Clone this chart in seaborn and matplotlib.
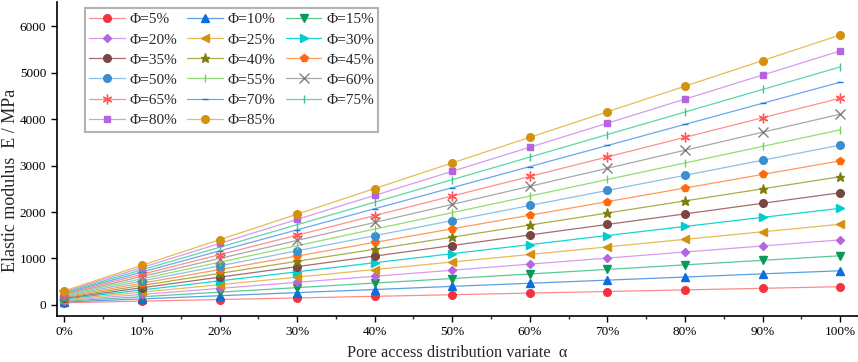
import numpy as np
import pandas as pd
import matplotlib
matplotlib.use('Agg')
import matplotlib.pyplot as plt
from matplotlib.ticker import MultipleLocator, FuncFormatter
import seaborn as sns

# dados
alpha = [0, 10, 20, 30, 40, 50, 60, 70, 80, 90, 100]
phis = [5, 10, 15, 20, 25, 30, 35, 40, 45, 50, 55, 60, 65, 70, 75, 80, 85]

E_05 = [46, 81, 115, 150, 184, 219, 254, 288, 323, 357, 392]
E_10 = [62, 129, 197, 264, 331, 399, 466, 533, 600, 668, 735]
E_15 = [78, 176, 274, 372, 470, 568, 666, 764, 862, 960, 1058]
E_20 = [94, 225, 355, 486, 616, 747, 878, 1008, 1139, 1269, 1400]
E_25 = [110, 273, 435, 598, 761, 924, 1086, 1249, 1412, 1574, 1737]
E_30 = [126, 321, 517, 712, 908, 1103, 1298, 1494, 1689, 1885, 2080]
E_35 = [142, 369, 597, 824, 1051, 1279, 1506, 1733, 1960, 2188, 2415]
E_40 = [158, 418, 678, 939, 1199, 1459, 1719, 1979, 2240, 2500, 2760]
E_45 = [174, 467, 760, 1053, 1346, 1639, 1931, 2224, 2517, 2810, 3103]
E_50 = [190, 515, 840, 1165, 1490, 1816, 2141, 2466, 2791, 3116, 3441]
E_55 = [206, 562, 919, 1275, 1632, 1988, 2344, 2701, 3057, 3414, 3770]
E_60 = [222, 611, 999, 1388, 1776, 2165, 2554, 2942, 3331, 3719, 4108]
E_65 = [238, 659, 1081, 1502, 1924, 2345, 2766, 3188, 3609, 4031, 4452]
E_70 = [254, 708, 1162, 1617, 2071, 2525, 2979, 3433, 3888, 4342, 4796]
E_75 = [270, 756, 1241, 1727, 2212, 2698, 3183, 3669, 4154, 4640, 5125]
E_80 = [286, 804, 1323, 1841, 2359, 2878, 3396, 3914, 4432, 4951, 5469]
E_85 = [302, 853, 1404, 1955, 2506, 3058, 3609, 4160, 4711, 5262, 5813]

series = [E_05, E_10, E_15, E_20, E_25, E_30, E_35, E_40, E_45, E_50,
          E_55, E_60, E_65, E_70, E_75, E_80, E_85]

labels = ['Φ=%d%%' % p for p in phis]

# cores das linhas (mais claras) e dos marcadores
cores_linha = ['#ff8a8a', '#5a9ee6', '#5cc996', '#d89af0', '#e8bb55', '#19d4d4',
               '#a56c6c', '#abab4a', '#ff9a5c', '#8dc0e8', '#93dc74', '#a8a8a8',
               '#ff8e8e', '#6aa8ee', '#5ed6a6', '#d89af0', '#e8bb55']
cores_marc = ['#f5333f', '#0a6fdc', '#0a9a58', '#b366e0', '#d4920c', '#00cccc',
              '#7a4545', '#7f7f10', '#ff6a10', '#3a8fd0', '#7acc55', '#808080',
              '#ff5a5a', '#1e78e0', '#40c090', '#b366e0', '#d4920c']
marcadores = ['o', '^', 'v', 'D', '<', '>', 'o', '*', 'p', 'o', '|', 'x',
              (6, 2, 0), '_', '|', 's', 'o']
tamanhos = [5.5, 6, 6, 4.5, 6, 6, 5.5, 6.5, 6, 5.5, 6, 6.5, 7, 5, 6, 5, 5.5]

rows = []
for lab, vals in zip(labels, series):
    for a, e in zip(alpha, vals):
        rows.append({'alpha': a, 'E': e, 'Phi': lab})
dados = pd.DataFrame(rows)

sns.set_style('ticks')
plt.rcParams['font.family'] = ['Liberation Serif', 'DejaVu Serif']
plt.rcParams['mathtext.fontset'] = 'stix'

fig = plt.figure(figsize=(8.58, 3.62), dpi=100)
ax = fig.add_axes([0.066, 0.127, 0.934, 0.867])

sns.lineplot(data=dados, x='alpha', y='E', hue='Phi', hue_order=labels,
             palette=dict(zip(labels, cores_linha)),
             linewidth=0.9, ax=ax, legend=False)

linhas = ax.get_lines()[:len(labels)]
for ln, mk, mc, ms in zip(linhas, marcadores, cores_marc, tamanhos):
    ln.set_marker(mk)
    ln.set_markerfacecolor(mc)
    ln.set_markeredgecolor(mc)
    ln.set_markersize(ms)
    ln.set_markeredgewidth(1.0)

ax.set_xlim(-1, 102.3)
ax.set_ylim(-240, 6520)
ax.xaxis.set_major_locator(MultipleLocator(10))
ax.xaxis.set_minor_locator(MultipleLocator(5))
ax.yaxis.set_major_locator(MultipleLocator(1000))
ax.xaxis.set_major_formatter(FuncFormatter(lambda v, p: '%d%%' % v))
ax.tick_params(axis='both', which='major', direction='out', length=4, width=1,
               labelsize=9.5, colors='black')
ax.tick_params(axis='x', which='minor', direction='out', length=2.5, width=1)
for s in ['left', 'bottom']:
    ax.spines[s].set_linewidth(1.2)
    ax.spines[s].set_color('black')
sns.despine(ax=ax)

ax.set_xlabel('Pore access distribution variate  α', fontsize=11.7, labelpad=5)
ax.set_ylabel('Elastic modulus  E / MPa', fontsize=13)
ax.yaxis.set_label_coords(-0.047, 0.433)

# legenda em 3 colunas, ordem por linha
ordem = [0, 3, 6, 9, 12, 15, 1, 4, 7, 10, 13, 16, 2, 5, 8, 11, 14]
leg = ax.legend([linhas[i] for i in ordem], [labels[i] for i in ordem],
                ncol=3, loc='upper left', bbox_to_anchor=(0.035, 0.981),
                borderaxespad=0, fontsize=11, handlelength=2.35,
                handletextpad=0.3, columnspacing=0.65, labelspacing=0.42,
                borderpad=0.3, frameon=True, fancybox=False)
leg.get_frame().set_edgecolor('#a0a0a0')
leg.get_frame().set_linewidth(1.5)

fig.savefig('out.png', dpi=100)
